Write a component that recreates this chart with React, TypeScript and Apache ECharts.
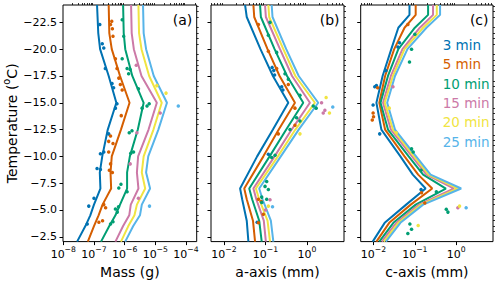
import React, { useEffect, useRef } from 'react';
import * as echarts from 'echarts';

const FONT = 'DejaVu Sans';
const durations = ['3 min', '5 min', '10 min', '15 min', '20 min', '25 min'];
const colors = ['#0072B2', '#D55E00', '#009E73', '#CC79A7', '#F0E442', '#56B4E9'];
const tempTicks = [-22.5, -20, -17.5, -15, -12.5, -10, -7.5, -5, -2.5];
const massTicks = [1e-8, 1e-7, 1e-6, 1e-5, 1e-4];
const axisTicksMM = [1e-2, 1e-1, 1e0];
const panelLabels = ['(a)', '(b)', '(c)'];
const xNames = ['Mass (g)', 'a-axis (mm)', 'c-axis (mm)'];

// ---- panel (a): model curves, log10 mass (g) at temperature nodes
const tempA = [-24.12, -21.5, -20, -17.5, -15, -12.5, -10, -8.5, -7, -5.5, -4.5, -3.5, -2.05];
const massLine3 = [-6.90, -6.86, -6.80, -6.52, -6.27, -6.55, -6.73, -6.81, -6.79, -7.00, -7.12, -7.28, -7.55];
const massLine5 = [-6.52, -6.50, -6.42, -6.15, -5.84, -6.12, -6.42, -6.46, -6.44, -6.72, -6.85, -7.00, -7.20];
const massLine10 = [-6.05, -6.03, -5.98, -5.75, -5.38, -5.57, -5.83, -5.92, -5.92, -6.15, -6.30, -6.50, -6.77];
const massLine15 = [-5.79, -5.77, -5.70, -5.45, -4.95, -5.22, -5.56, -5.60, -5.55, -5.80, -5.85, -6.05, -6.30];
const massLine20 = [-5.55, -5.53, -5.45, -5.20, -4.79, -5.06, -5.38, -5.44, -5.33, -5.60, -5.68, -5.88, -6.12];
const massLine25 = [-5.40, -5.38, -5.30, -5.05, -4.62, -4.90, -5.23, -5.30, -5.17, -5.44, -5.50, -5.72, -5.98];

// ---- panel (b): log10 a-axis (mm)
const tempB = [-24.12, -23, -20, -17.5, -15, -12.5, -10, -7, -6, -4, -2.05];
const aLine3 = [-1.49, -1.45, -1.12, -0.82, -0.45, -0.82, -1.20, -1.61, -1.56, -1.45, -1.41];
const aLine5 = [-1.29, -1.27, -0.95, -0.66, -0.29, -0.68, -1.05, -1.51, -1.45, -1.30, -1.25];
const aLine10 = [-1.13, -1.11, -0.78, -0.48, -0.09, -0.50, -0.90, -1.39, -1.32, -1.15, -1.09];
const aLine15 = [-1.01, -0.99, -0.65, -0.36, 0.07, -0.37, -0.78, -1.29, -1.22, -1.04, -0.99];
const aLine20 = [-0.93, -0.91, -0.57, -0.28, 0.19, -0.28, -0.70, -1.23, -1.15, -0.95, -0.89];
const aLine25 = [-0.85, -0.83, -0.50, -0.20, 0.27, -0.20, -0.63, -1.15, -1.07, -0.87, -0.81];

// ---- panel (c): log10 c-axis (mm)
const tempC = [-24.12, -23.2, -22, -20, -17.5, -15, -12.5, -10, -8.3, -7, -5.5, -3.8, -2.05];
const cLine3 = [-1.13, -1.13, -1.40, -1.57, -1.78, -1.93, -1.81, -1.35, -1.05, -0.74, -1.21, -1.73, -2.02];
const cLine5 = [-0.98, -0.98, -1.25, -1.50, -1.72, -1.86, -1.72, -1.25, -0.92, -0.58, -1.10, -1.62, -1.93];
const cLine10 = [-0.68, -0.68, -1.00, -1.40, -1.65, -1.83, -1.65, -1.15, -0.80, -0.25, -0.98, -1.52, -1.86];
const cLine15 = [-0.56, -0.56, -0.88, -1.30, -1.58, -1.77, -1.58, -1.07, -0.72, -0.05, -0.90, -1.45, -1.80];
const cLine20 = [-0.47, -0.47, -0.80, -1.25, -1.53, -1.73, -1.53, -1.02, -0.67, 0.04, -0.85, -1.40, -1.75];
const cLine25 = [-0.39, -0.39, -0.72, -1.18, -1.48, -1.67, -1.48, -0.97, -0.62, 0.12, -0.80, -1.35, -1.70];

// ---- observations: [temperature, log10 value]
const massObs3 = [[-22.3, -6.81], [-20.5, -6.73], [-20.1, -6.68], [-18.2, -6.63], [-16.8, -6.41], [-16.4, -6.36], [-14.9, -6.25], [-14.5, -6.30], [-12.1, -6.52], [-10.4, -6.68], [-10.25, -6.79], [-8.87, -6.90], [-8.78, -6.79], [-6.1, -7.0], [-5.36, -7.17], [-3.7, -7.22]];
const massObs5 = [[-22.6, -6.42], [-22.3, -6.46], [-21.9, -6.40], [-21.2, -6.38], [-19.1, -6.30], [-18.2, -6.25], [-17.3, -6.19], [-16.7, -6.14], [-16.2, -6.08], [-13.8, -6.11], [-11.9, -6.46], [-11.4, -6.52], [-11.2, -6.38], [-10.4, -6.52], [-9.3, -6.46], [-8.7, -6.50], [-8.5, -6.40], [-5.5, -6.68], [-5.2, -6.62], [-4.0, -6.72], [-3.85, -6.84]];
const massObs10 = [[-22.75, -6.08], [-21.2, -6.03], [-19.1, -6.08], [-18.2, -5.92], [-18.1, -5.82], [-17.7, -5.87], [-16.3, -5.55], [-14.9, -5.20], [-14.7, -5.27], [-14.5, -5.43], [-12.4, -5.76], [-12.2, -5.85], [-10.4, -5.71], [-10.3, -5.80], [-7.4, -6.12], [-7.04, -6.19], [-6.7, -5.92], [-5.3, -6.20], [-5.1, -6.30], [-4.8, -6.24], [-3.9, -6.38], [-3.7, -6.46]];
const massObs15 = [[-18.5, -5.62], [-14.05, -4.84], [-12.2, -5.60], [-9.3, -5.82], [-6.1, -5.55]];
const massObs20 = [[-16.6, -4.95], [-15.9, -4.65]];
const massObs25 = [[-14.7, -4.25], [-5.36, -5.19]];

const aObs3 = [[-18.3, -0.84], [-18.0, -0.80], [-17.6, -0.78], [-16.5, -0.61], [-16.2, -0.58], [-10.2, -0.93], [-3.85, -1.2]];
const aObs5 = [[-22.3, -1.17], [-19.8, -0.93], [-18.2, -0.73], [-16.7, -0.45], [-14.5, -0.29], [-12.9, -0.29], [-12.1, -0.69], [-6.0, -1.17], [-5.8, -1.10], [-4.6, -1.05], [-3.8, -1.17]];
const aObs10 = [[-22.5, -0.89], [-21.3, -0.93], [-19.7, -0.73], [-17.7, -0.53], [-17.2, -0.45], [-15.7, -0.17], [-14.7, 0.15], [-14.5, 0.22], [-13.6, -0.25], [-13.3, -0.17], [-12.5, -0.41], [-10.1, -0.77], [-9.9, -0.85], [-7.65, -0.97], [-7.2, -1.01], [-6.9, -0.93], [-6.2, -1.09], [-6.0, -0.97], [-5.7, -1.09]];
const aObs15 = [[-15.0, 0.35], [-14.3, 0.43], [-14.05, 0.39], [-5.95, -0.89], [-5.0, -1.0]];
const aObs20 = [[-15.5, 0.46], [-14.05, 0.54], [-12.1, -0.17], [-5.36, -0.93]];
const aObs25 = [[-14.6, 0.62], [-5.3, -0.83]];

const cObs3 = [[-20.6, -1.37], [-20.2, -1.41], [-18.0, -1.70], [-16.6, -1.93], [-16.5, -1.97], [-14.8, -2.01], [-12.1, -1.85], [-6.9, -0.85]];
const cObs5 = [[-22.3, -1.17], [-16.4, -1.90], [-14.05, -2.01], [-13.7, -2.0], [-13.4, -2.03], [-6.6, -0.84], [-5.66, -0.76]];
const cObs10 = [[-21.4, -1.0], [-20, -1.08], [-18.8, -1.13], [-10.7, -1.08], [-10.4, -1.04], [-8.7, -0.85], [-6.7, -0.48], [-5.06, -0.24], [-4.8, -0.20], [-3.7, -1.12], [-3.2, -1.08], [-2.8, -1.17]];
const cObs15 = [[-16.5, -1.53], [-5.2, 0.04]];
const cObs20 = [[-14.5, -1.62], [-12.2, -1.45], [-5.36, 0.08], [-3.55, -0.92]];
const cObs25 = [[-5.2, 0.24]];

const panels = [
  { temps: tempA, lines: [massLine3, massLine5, massLine10, massLine15, massLine20, massLine25], obs: [massObs3, massObs5, massObs10, massObs15, massObs20, massObs25], xMinExp: -8.01, xMaxExp: -3.65, ticks: massTicks },
  { temps: tempB, lines: [aLine3, aLine5, aLine10, aLine15, aLine20, aLine25], obs: [aObs3, aObs5, aObs10, aObs15, aObs20, aObs25], xMinExp: -2.31, xMaxExp: 0.89, ticks: axisTicksMM },
  { temps: tempC, lines: [cLine3, cLine5, cLine10, cLine15, cLine20, cLine25], obs: [cObs3, cObs5, cObs10, cObs15, cObs20, cObs25], xMinExp: -2.31, xMaxExp: 0.89, ticks: axisTicksMM },
];

const gridLefts = [62.7, 211, 360.7];
const gridWidths = [134, 133, 132.3];
const Y_MIN = -24.12;
const Y_MAX = -2.05;

function minorLog(lo: number, hi: number) {
  const out: number[] = [];
  for (let k = Math.floor(lo); k <= Math.ceil(hi); k++) {
    for (let m = 2; m <= 9; m++) {
      const v = m * Math.pow(10, k);
      const e = Math.log10(v);
      if (e > lo && e < hi) out.push(v);
    }
  }
  return out;
}
function minorTemps() {
  const out: number[] = [];
  for (let i = 0; i <= 44; i++) {
    const v = -24 + i * 0.5;
    if (v > Y_MIN && v < Y_MAX && !tempTicks.includes(v)) out.push(v);
  }
  return out;
}

const fmtT = (v: number) => (v < 0 ? '\u2212' : '') + Math.abs(v).toFixed(1);
const fmtPow = (v: number) => {
  const e = Math.round(Math.log10(v));
  return '{b|10}{s|' + (e < 0 ? '\u2212' : '') + Math.abs(e) + '}';
};
const powRich = {
  b: { fontSize: 11, lineHeight: 15, verticalAlign: 'bottom', fontFamily: FONT, color: '#000' },
  s: { fontSize: 7.7, lineHeight: 8, verticalAlign: 'top', fontFamily: FONT, color: '#000' },
};

export default function App() {
  const ref = useRef<HTMLDivElement>(null);
  useEffect(() => {
    if (!ref.current) return;
    const chart = echarts.init(ref.current, null, { renderer: 'svg' });
    const grids: any[] = [];
    const xAxes: any[] = [];
    const yAxes: any[] = [];
    const series: any[] = [];
    const mt = minorTemps();
    panels.forEach((p, pi) => {
      grids.push({ left: gridLefts[pi], top: 5, width: gridWidths[pi], height: 241, show: true, borderColor: '#000', borderWidth: 1, backgroundColor: 'rgba(0,0,0,0)' });
      const xmin = Math.pow(10, p.xMinExp);
      const xmax = Math.pow(10, p.xMaxExp);
      xAxes.push({
        type: 'log', logBase: 10, gridIndex: pi, min: xmin, max: xmax,
        axisLine: { show: false }, splitLine: { show: false },
        axisTick: { show: true, customValues: p.ticks, length: 3.5, lineStyle: { color: '#000', width: 1 } },
        axisLabel: { show: true, customValues: p.ticks, formatter: fmtPow, rich: powRich, margin: 3.5, hideOverlap: false },
        name: xNames[pi], nameLocation: 'middle', nameGap: 14,
        nameTextStyle: { fontSize: 14, fontFamily: FONT, color: '#000', verticalAlign: 'top' },
      });
      yAxes.push({
        type: 'value', gridIndex: pi, inverse: true, min: Y_MIN, max: Y_MAX,
        axisLine: { show: false }, splitLine: { show: false },
        axisTick: { show: true, customValues: tempTicks, length: 3.5, lineStyle: { color: '#000', width: 1 } },
        axisLabel: { show: pi === 0, customValues: tempTicks, formatter: fmtT, fontSize: 11, fontFamily: FONT, color: '#000', margin: 6 },
        name: pi === 0 ? '{t|Temperature (}{s|o}{t|C)}' : '',
        nameLocation: 'middle', nameRotate: 90, nameGap: 44,
        nameTextStyle: {
          rich: {
            t: { fontSize: 14, lineHeight: 18, verticalAlign: 'bottom', fontFamily: FONT, color: '#000' },
            s: { fontSize: 9.8, lineHeight: 10, verticalAlign: 'top', fontFamily: FONT, color: '#000' },
          },
        },
      });
    });
    panels.forEach((p, pi) => {
      const xmin = Math.pow(10, p.xMinExp);
      const xmax = Math.pow(10, p.xMaxExp);
      xAxes.push({
        type: 'log', logBase: 10, gridIndex: pi, min: xmin, max: xmax,
        axisLine: { show: false }, splitLine: { show: false }, axisLabel: { show: false },
        axisTick: { show: true, customValues: minorLog(p.xMinExp, p.xMaxExp), length: 2, lineStyle: { color: '#000', width: 0.8 } },
      });
      yAxes.push({
        type: 'value', gridIndex: pi, inverse: true, min: Y_MIN, max: Y_MAX,
        axisLine: { show: false }, splitLine: { show: false }, axisLabel: { show: false },
        axisTick: { show: true, customValues: mt, length: 2, lineStyle: { color: '#000', width: 0.8 } },
      });
    });
    panels.forEach((p, pi) => {
      p.lines.forEach((vals, i) => {
        series.push({
          type: 'line', name: durations[i], xAxisIndex: pi, yAxisIndex: pi,
          data: vals.map((v, k) => [Math.pow(10, v), p.temps[k]]),
          showSymbol: false, symbol: 'none', silent: true, z: 2,
          lineStyle: { width: 2, color: colors[i] }, itemStyle: { color: colors[i] },
        });
      });
      p.obs.forEach((pts, i) => {
        series.push({
          type: 'scatter', name: durations[i], xAxisIndex: pi, yAxisIndex: pi,
          data: pts.map(([t, v]) => [Math.pow(10, v), t]),
          symbol: 'circle', symbolSize: 3.5, silent: true, z: 3,
          itemStyle: { color: colors[i], opacity: 1 },
        });
      });
    });
    const graphics = panelLabels.map((lab, pi) => ({
      type: 'text',
      x: gridLefts[pi] + gridWidths[pi] - 4.5,
      y: 20,
      style: { text: lab, fill: '#000', font: `14px "${FONT}"`, align: 'right', verticalAlign: 'middle' },
    }));
    chart.setOption({
      animation: false,
      grid: grids,
      xAxis: xAxes,
      yAxis: yAxes,
      series,
      graphic: graphics,
      legend: {
        orient: 'vertical', left: 437.7, top: 37, itemWidth: 0, itemHeight: 16, itemGap: 3.3,
        icon: 'none', padding: 0, selectedMode: false,
        textStyle: { fontSize: 13.5, fontFamily: FONT, lineHeight: 16 },
        data: durations.map((d, i) => ({ name: d, textStyle: { color: colors[i] } })),
      },
    });
    return () => chart.dispose();
  }, []);
  return <div ref={ref} style={{ position: 'fixed', left: 0, top: 0, width: 500, height: 284, background: '#fff' }} />;
}
